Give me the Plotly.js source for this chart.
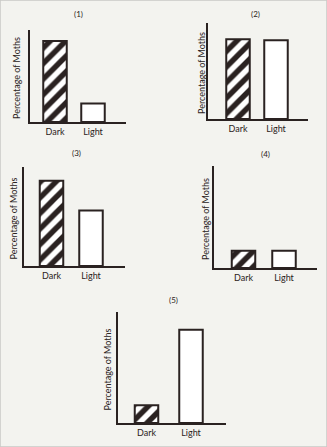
<!DOCTYPE html>
<html>
<head>
<meta charset="utf-8">
<script src="https://cdn.plot.ly/plotly-3.0.1.min.js"></script>
<style>
html,body{margin:0;padding:0;background:#f3f3ef;}
#chart{width:327px;height:447px;}
</style>
</head>
<body>
<div id="chart"></div>
<script>
// ---- data ----
const categories = ["Dark", "Light"];
const panelLabels = ["(1)", "(2)", "(3)", "(4)", "(5)"];
const darkValues  = [88, 83, 86, 17, 16];
const lightValues = [20, 82, 56, 17, 84];
const yTitle = "Percentage of Moths";

// ---- layout geometry (pixels) ----
const W = 327, H = 447;
const ink = "#2a2221";
const panels = [
  {L:30,  R:126, T:30,  B:122, dc:55,    lc:93,  tx:78,  ty:14,  yx:17},
  {L:208, R:308, T:23,  B:119, dc:238,   lc:276, tx:255, ty:14,  yx:201},
  {L:24,  R:125, T:167, B:266, dc:51.5,  lc:91,  tx:76,  ty:153, yx:13},
  {L:214, R:317, T:166, B:268, dc:243.5, lc:284, tx:265, ty:154, yx:205},
  {L:118, R:226, T:312, B:423, dc:146.5, lc:191, tx:173, ty:300, yx:107}
];
const barPx = 23.5;

const traces = [];
const layout = {
  width: W, height: H,
  margin: {l:0, r:0, t:0, b:0},
  paper_bgcolor: "#f3f3ef",
  plot_bgcolor: "rgba(0,0,0,0)",
  showlegend: false,
  font: {family: "Lato, 'Open Sans', sans-serif", color: ink, size: 9},
  annotations: [],
  shapes: [{type:"rect", xref:"paper", yref:"paper", x0:0, x1:1, y0:0, y1:1,
            line:{color:"#c9c9c6", width:1.5}}]
};

panels.forEach((p, i) => {
  const n = i === 0 ? "" : String(i + 1);
  const xa = "x" + n, ya = "y" + n;
  const ppu = p.lc - p.dc;
  const r0 = -(p.dc - p.L) / ppu;
  const r1 = 1 + (p.R - p.lc) / ppu;
  const w = barPx / ppu;

  traces.push({
    type: "bar", x: [categories[0]], y: [darkValues[i]],
    xaxis: xa, yaxis: ya, width: [w],
    marker: {color: "#ffffff",
      line: {color: ink, width: 2},
      pattern: {shape: "/", fgcolor: ink, bgcolor: "#ffffff", size: 11, solidity: 0.5, fillmode: "replace"}},
    hoverinfo: "none"
  });
  traces.push({
    type: "bar", x: [categories[1]], y: [lightValues[i]],
    xaxis: xa, yaxis: ya, width: [w],
    marker: {color: "#ffffff", line: {color: ink, width: 2}},
    hoverinfo: "none"
  });

  layout["xaxis" + n] = {
    domain: [p.L / W, p.R / W], anchor: ya, type: "category",
    categoryorder: "array", categoryarray: categories,
    range: [r0, r1], showline: true, linecolor: ink, linewidth: 2,
    showgrid: false, zeroline: false, ticks: "", ticklen: 0,
    tickfont: {size: 9, color: ink}, fixedrange: true
  };
  layout["yaxis" + n] = {
    domain: [1 - p.B / H, 1 - p.T / H], anchor: xa,
    range: [0, 100], showline: true, linecolor: ink, linewidth: 2,
    showgrid: false, zeroline: false, showticklabels: false, ticks: "",
    fixedrange: true
  };

  layout.annotations.push({
    xref: "paper", yref: "paper", x: p.tx / W, y: 1 - p.ty / H,
    text: panelLabels[i], showarrow: false, font: {size: 8, color: ink},
    xanchor: "center", yanchor: "middle"
  });
  layout.annotations.push({
    xref: "paper", yref: "paper", x: p.yx / W, y: 1 - ((p.T + p.B) / 2 + 2) / H,
    text: yTitle, showarrow: false, textangle: -90, font: {size: 9, color: ink},
    xanchor: "center", yanchor: "middle"
  });
});

layout.bargap = 0;
Plotly.newPlot("chart", traces, layout, {staticPlot: true, displayModeBar: false});
</script>
</body>
</html>
